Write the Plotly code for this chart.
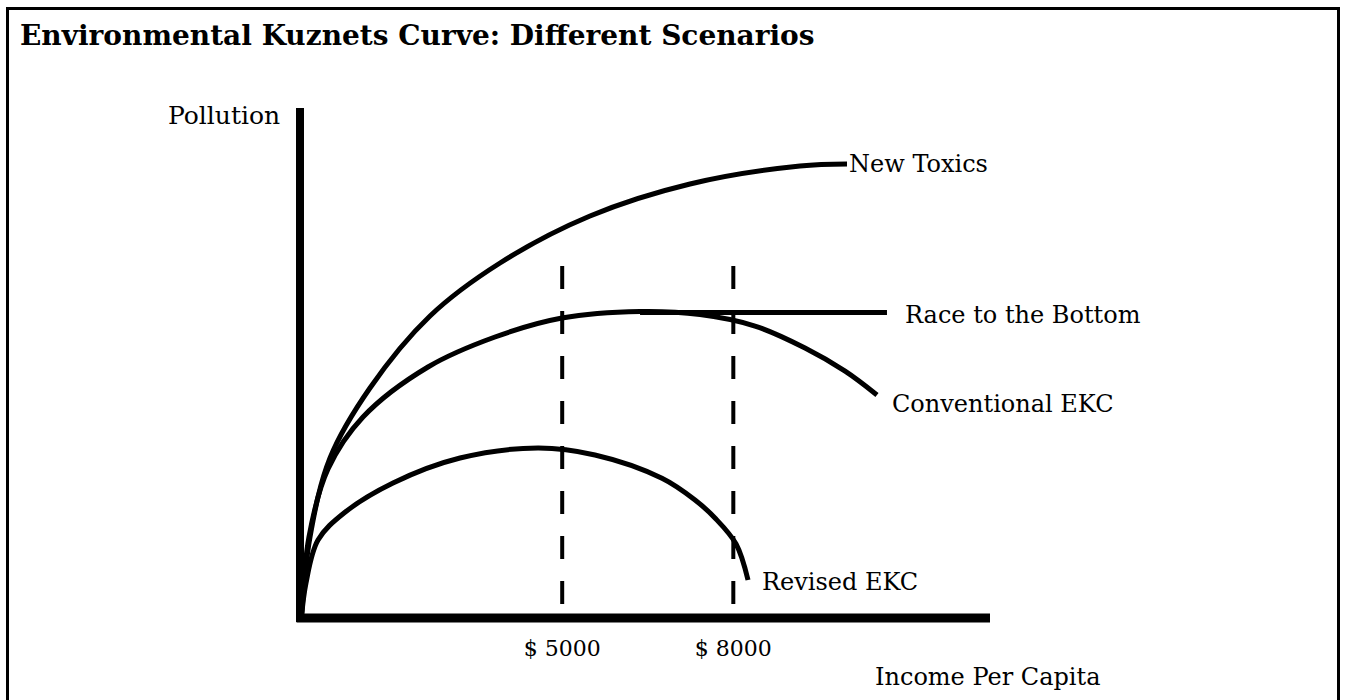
import plotly.graph_objects as go

# ---- data (income index 0-100, pollution index 0-100; schematic chart) ----
new_toxics_x = [0.2, 1.45, 4.35, 10.14, 18.84, 28.99, 42.03, 56.52, 72.46, 79.28]
new_toxics_y = [0.0, 15.88, 31.37, 45.10, 59.22, 69.61, 78.82, 85.10, 88.63, 89.02]

conventional_x = [0.2, 1.30, 4.06, 9.13, 18.55, 28.26, 37.97, 49.28, 57.97, 65.94, 73.19, 79.00, 83.62]
conventional_y = [0.0, 15.88, 29.22, 39.41, 49.22, 55.10, 58.82, 60.10, 59.51, 57.25, 52.94, 48.40, 43.73]

race_x = [49.28, 85.07]
race_y = [59.9, 59.9]

revised_x = [0.2, 0.87, 2.61, 6.38, 13.48, 23.19, 34.49, 42.75, 52.46, 57.25, 60.14, 63.20, 64.93]
revised_y = [0.0, 6.86, 15.29, 20.59, 26.47, 31.37, 33.33, 31.96, 27.40, 23.14, 19.61, 14.50, 7.45]

threshold_x = [38.0, 62.8]
threshold_labels = ["$ 5000", "$ 8000"]
threshold_top = 69.0

series_names = ["New Toxics", "Race to the Bottom", "Conventional EKC", "Revised EKC"]

FONT = "DejaVu Serif, serif"
LBL = 24
W, H = 1347, 700

fig = go.Figure()

line_style = dict(color="black", width=5, shape="spline", smoothing=1.0)
for xs, ys, nm in [(new_toxics_x, new_toxics_y, series_names[0]),
                   (race_x, race_y, series_names[1]),
                   (conventional_x, conventional_y, series_names[2]),
                   (revised_x, revised_y, series_names[3])]:
    fig.add_trace(go.Scatter(x=xs, y=ys, mode="lines", name=nm, line=line_style,
                             hoverinfo="skip"))

# dashed income thresholds (drawn top -> bottom)
for tx in threshold_x:
    fig.add_trace(go.Scatter(x=[tx, tx], y=[threshold_top, 1.0], mode="lines",
                             line=dict(color="black", width=4, dash="23px,22px"),
                             hoverinfo="skip"))

# axis lines
fig.add_shape(type="line", xref="x", yref="y", x0=0, x1=0, y0=-0.8, y1=100,
              line=dict(color="black", width=8))
fig.add_shape(type="line", xref="x", yref="y", x0=-0.5, x1=100, y0=0, y1=0,
              line=dict(color="black", width=9))

# curve labels at the end of each curve
ends = [(new_toxics_x[-1], new_toxics_y[-1], 0, 0),
        (race_x[-1], race_y[-1], 16, -2),
        (conventional_x[-1], conventional_y[-1], 13, -9),
        (revised_x[-1], revised_y[-1], 12, -2)]
for (ex, ey, dx, dy), nm in zip(ends, series_names):
    fig.add_annotation(x=ex, y=ey, xref="x", yref="y", text=nm, showarrow=False,
                       xanchor="left", yanchor="middle", xshift=dx, yshift=dy,
                       font=dict(family=FONT, size=LBL, color="black"))

# axis titles
fig.add_annotation(x=0, y=100, xref="x", yref="y", text="Pollution", showarrow=False,
                   xanchor="right", yanchor="middle", xshift=-18, yshift=-8,
                   font=dict(family=FONT, size=25, color="black"))
fig.add_annotation(x=83.0, y=(H - 677) / H, xref="x", yref="paper", text="Income Per Capita",
                   showarrow=False, xanchor="left", yanchor="middle",
                   font=dict(family=FONT, size=LBL, color="black"))

# title
fig.add_annotation(x=18 / W, y=(H - 35) / H, xref="paper", yref="paper",
                   text="<b>Environmental Kuznets Curve: Different Scenarios</b>",
                   showarrow=False, xanchor="left", yanchor="middle",
                   font=dict(family=FONT, size=28, color="black"))

# frame
fig.add_shape(type="rect", xref="paper", yref="paper", x0=7.5 / W, x1=1338.5 / W,
              y0=-0.1, y1=(H - 8.5) / H, line=dict(color="black", width=3),
              fillcolor="rgba(0,0,0,0)")

fig.update_layout(
    width=W, height=H, margin=dict(l=0, r=0, t=0, b=0),
    paper_bgcolor="white", plot_bgcolor="white", showlegend=False,
    xaxis=dict(range=[-2, 100.5], domain=[286.2 / W, 993.45 / W],
               showgrid=False, zeroline=False, showline=False,
               tickvals=threshold_x, ticktext=threshold_labels, ticks="",
               ticklabelstandoff=0,
               tickfont=dict(family=FONT, size=22, color="black"), fixedrange=True),
    yaxis=dict(range=[-3, 102], domain=[(H - 633.3) / H, (H - 97.8) / H], showgrid=False,
               zeroline=False, showline=False, showticklabels=False, fixedrange=True),
)

fig.write_html("out.html", config={"displayModeBar": False},
               post_script="document.body.style.margin='0';document.body.style.overflow='hidden';")
